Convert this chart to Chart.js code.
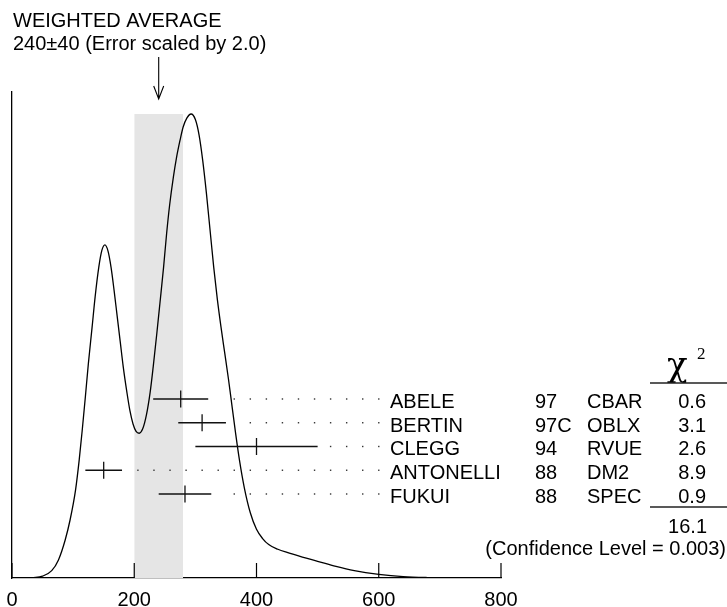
<!DOCTYPE html>
<html lang="en">
  <head>
    <meta charset="UTF-8" />
    <title>Weighted average ideogram</title>
    <script src="https://cdn.jsdelivr.net/npm/chart.js@4.4.1/dist/chart.umd.min.js"></script>
    <style>
      body { margin: 0; background: #fff; }
    </style>
  </head>
  <body>
    <canvas id="myChart" width="727" height="607"></canvas>

    <script>
      // measurements
      const names = ["ABELE", "BERTIN", "CLEGG", "ANTONELLI", "FUKUI"];
      const years = ["97", "97C", "94", "88", "88"];
      const techniques = ["CBAR", "OBLX", "RVUE", "DM2", "SPEC"];
      const values = [276, 311, 400, 150, 283];
      const errors = [45, 39, 100, 30, 43];
      const chi2 = ["0.6", "3.1", "2.6", "8.9", "0.9"];
      const chi2Total = "16.1";
      const confidence = "(Confidence Level = 0.003)";
      const average = 240;
      const averageError = 40;
      const xTicks = [0, 200, 400, 600, 800];

      // ideogram curve (height relative to the main peak)
      const curveX = [0, 20, 35, 50, 65, 76, 87, 95, 104, 110, 115, 120, 125, 131, 136, 142, 147, 152, 157, 162,
        167, 172, 177, 182, 188, 193, 198, 203, 208, 214, 220, 226, 231, 237, 242, 248, 253, 258, 264, 269,
        275, 280, 286, 293, 300, 306, 312, 318, 324, 330, 336, 342, 348, 354, 360, 366, 372, 380, 390, 400,
        410, 420, 435, 450, 475, 500, 530, 560, 600, 640, 680, 720, 760, 800];
      const curveY = [0, 0, 0.001, 0.004, 0.016, 0.039, 0.082, 0.125, 0.19, 0.255, 0.32, 0.39, 0.463, 0.54, 0.606, 0.67, 0.706, 0.718, 0.705, 0.67,
        0.62, 0.565, 0.51, 0.455, 0.4, 0.36, 0.332, 0.316, 0.312, 0.322, 0.352, 0.4, 0.455, 0.528, 0.592, 0.67, 0.743, 0.805, 0.864, 0.905,
        0.944, 0.972, 0.991, 1.0, 0.988, 0.955, 0.9, 0.83, 0.75, 0.67, 0.6, 0.54, 0.485, 0.43, 0.37, 0.31, 0.255, 0.195, 0.14, 0.105,
        0.085, 0.072, 0.062, 0.055, 0.045, 0.036, 0.025, 0.016, 0.008, 0.003, 0.001, 0.0003, 0, 0];

      const FONT = '"Liberation Sans", Arial, Helvetica, sans-serif';
      const SERIF = '"DejaVu Serif", "Liberation Serif", serif';

      // leader dots grid (x units)
      const dotStart = 206, dotStep = 26.27, dotEnd = 601, dotGap = 19;

      const peak = Math.max(...curveY);

      const datasets = [
        {
          // ideogram
          data: curveX.map((x, i) => ({ x: x, y: curveY[i] })),
          showLine: true,
          borderColor: "#000",
          borderWidth: 1.3,
          pointRadius: 0,
          cubicInterpolationMode: "monotone",
          yAxisID: "y",
          order: 1,
        },
        {
          // weighted average band
          data: [
            { x: average - averageError, y: peak },
            { x: average + averageError, y: peak },
          ],
          showLine: true,
          borderWidth: 0,
          borderColor: "rgba(0,0,0,0)",
          backgroundColor: "#e5e5e5",
          fill: "origin",
          pointRadius: 0,
          yAxisID: "y",
          order: 10,
        },
        {
          // central values
          data: values.map((v, i) => ({ x: v, y: i })),
          pointStyle: "line",
          rotation: 90,
          pointRadius: 8.5,
          borderColor: "#111",
          borderWidth: 1.3,
          yAxisID: "y2",
          order: 0,
        },
      ];
      values.forEach((v, i) => {
        datasets.push({
          data: [
            { x: v - errors[i], y: i },
            { x: v + errors[i], y: i },
          ],
          showLine: true,
          borderColor: "#111",
          borderWidth: 1.3,
          pointRadius: 0,
          yAxisID: "y2",
          order: 0,
        });
      });

      const decor = {
        id: "decor",
        afterDatasetsDraw(chart) {
          const { ctx, chartArea, scales } = chart;
          const x = scales.x;
          const y2 = scales.y2;
          ctx.save();

          // inward tick marks
          ctx.strokeStyle = "#000";
          ctx.lineWidth = 1.2;
          xTicks.forEach((v) => {
            const px = x.getPixelForValue(v);
            ctx.beginPath();
            ctx.moveTo(px, chartArea.bottom);
            ctx.lineTo(px, chartArea.bottom - 15);
            ctx.stroke();
          });

          // leader dots
          ctx.fillStyle = "#333";
          values.forEach((v, i) => {
            const py = y2.getPixelForValue(i);
            const hi = v + errors[i];
            for (let d = dotStart; d <= dotEnd; d += dotStep) {
              if (d < hi + dotGap) continue;
              const px = x.getPixelForValue(d);
              ctx.fillRect(px - 0.7, py - 0.7, 1.4, 1.4);
            }
          });

          // table
          ctx.fillStyle = "#000";
          ctx.font = "20px " + FONT;
          ctx.textBaseline = "alphabetic";
          names.forEach((n, i) => {
            const py = y2.getPixelForValue(i) + 9;
            ctx.textAlign = "left";
            ctx.fillText(n, 390, py);
            ctx.fillText(years[i], 535, py);
            ctx.fillText(techniques[i], 587, py);
            ctx.textAlign = "right";
            ctx.fillText(chi2[i], 706, py);
          });
          ctx.textAlign = "right";
          ctx.fillText(chi2Total, 707, 533);
          ctx.fillText(confidence, 726, 555);

          // chi^2 header and rules
          ctx.textAlign = "left";
          ctx.font = "34px " + SERIF;
          ctx.fillText("\u03C7", 667, 376);
          ctx.font = "17px " + '"Liberation Serif", serif';
          ctx.fillText("2", 697, 359);
          ctx.strokeStyle = "#222";
          ctx.lineWidth = 1.3;
          [383, 507].forEach((ly) => {
            ctx.beginPath();
            ctx.moveTo(650, ly);
            ctx.lineTo(727, ly);
            ctx.stroke();
          });

          // title
          ctx.font = "20px " + FONT;
          ctx.fillText("WEIGHTED AVERAGE", 13, 27);
          ctx.fillText(average + "\u00B1" + averageError + " (Error scaled by 2.0)", 13, 50);

          // arrow
          const ax = x.getPixelForValue(average);
          ctx.strokeStyle = "#000";
          ctx.lineWidth = 1.1;
          ctx.beginPath();
          ctx.moveTo(ax, 57);
          ctx.lineTo(ax, 99);
          ctx.moveTo(ax - 5, 86);
          ctx.lineTo(ax, 99);
          ctx.lineTo(ax + 5, 86);
          ctx.stroke();

          ctx.restore();
        },
      };

      const ctx = document.getElementById("myChart");

      new Chart(ctx, {
        type: "scatter",
        data: { datasets: datasets },
        options: {
          responsive: false,
          animation: false,
          events: [],
          layout: { padding: { left: 12, right: 226, top: 92, bottom: 0 } },
          plugins: { legend: { display: false }, tooltip: { enabled: false } },
          scales: {
            x: {
              type: "linear",
              min: 0,
              max: 800,
              afterBuildTicks: (scale) => {
                scale.ticks = xTicks.map((v) => ({ value: v }));
              },
              afterFit: (scale) => {
                scale.height = 29;
              },
              grid: { display: false },
              border: { display: true, color: "#000", width: 1.3 },
              ticks: {
                color: "#000",
                font: { size: 20, family: FONT },
                padding: 2,
                maxRotation: 0,
                autoSkip: false,
              },
            },
            y: {
              type: "linear",
              min: 0,
              max: 1.0474,
              afterFit: (scale) => {
                scale.width = 0;
              },
              grid: { display: false },
              border: { display: true, color: "#000", width: 1.3 },
              ticks: { display: false },
            },
            y2: {
              type: "linear",
              display: false,
              reverse: true,
              min: -12.926,
              max: 7.537,
            },
          },
        },
        plugins: [decor],
      });
    </script>
  </body>
</html>
